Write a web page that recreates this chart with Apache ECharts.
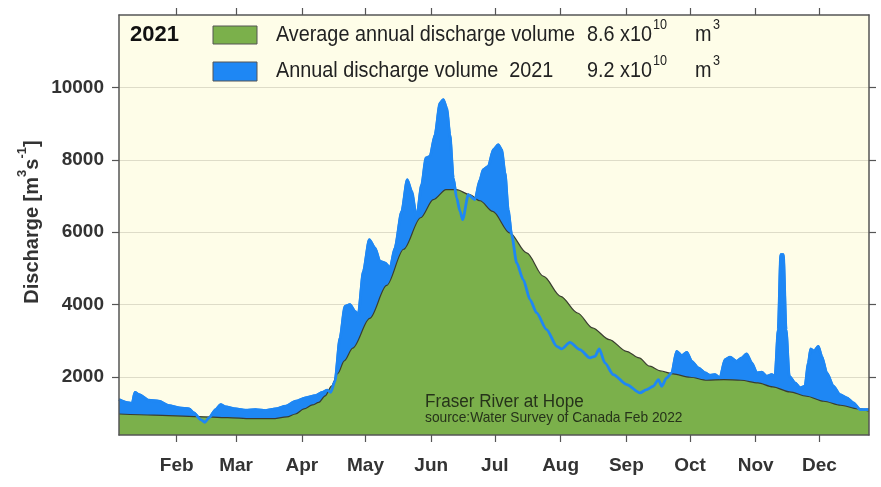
<!DOCTYPE html>
<html>
<head>
<meta charset="utf-8">
<script src="https://cdn.jsdelivr.net/npm/echarts@6/dist/echarts.min.js"></script>
<style>
html,body{margin:0;padding:0;background:#ffffff;}
#c{width:881px;height:487px;}
</style>
</head>
<body>
<div id="c"></div>
<script>
// ---- data (day of year, 0 = Jan 1) ----
var monthStarts = [31, 59, 90, 120, 151, 181, 212, 243, 273, 304, 334];
var monthNames = ['Feb','Mar','Apr','May','Jun','Jul','Aug','Sep','Oct','Nov','Dec'];
var yTicks = [2000, 4000, 6000, 8000, 10000];

var daysAvg = [3.8, 20, 41, 55, 66, 76, 83, 87, 91, 95, 98, 101, 104, 107, 110, 114, 122, 130, 138, 146, 152, 158, 163, 169, 174, 180, 188, 196, 204, 212, 220, 227, 235, 243, 249, 254, 259, 265, 273, 281, 289, 297, 305, 312, 320, 328, 336, 344, 352, 357.4];
var qAvg = [980, 950, 910, 880, 850, 850, 900, 980, 1120, 1230, 1300, 1480, 1750, 2100, 2450, 2800, 3620, 4530, 5530, 6400, 6900, 7175, 7175, 7040, 6870, 6576, 5980, 5430, 4780, 4230, 3770, 3360, 3035, 2712, 2530, 2300, 2170, 2088, 1995, 1912, 1930, 1912, 1840, 1730, 1592, 1470, 1332, 1222, 1122, 1056];

var days2021 = [3.8, 8.5, 10.0, 11.3, 13.2, 17.9, 22.6, 27.3, 32.1, 36.8, 39.1, 42.3, 44.3, 46.2, 49.4, 51.7, 54.1, 58.8, 63.5, 68.2, 72.9, 77.7, 82.4, 87.1, 91.8, 96.5, 99.6, 102.0, 103.6, 105.6, 108.0, 110.3, 112.7, 115.0, 116.6, 119.0, 121.8, 124.5, 126.8, 129.2, 131.6, 133.9, 137.1, 139.7, 141.8, 144.1, 146.5, 148.5, 150.4, 152.8, 155.1, 156.7, 158.3, 159.8, 161.4, 163.0, 164.6, 165.8, 168.5, 171.6, 174.0, 175.5, 177.9, 180.3, 182.6, 184.2, 185.8, 187.3, 188.9, 191.3, 194.4, 197.6, 200.7, 205.4, 210.2, 212.5, 216.4, 221.1, 225.8, 228.2, 230.2, 232.9, 236.8, 243.2, 249.4, 252.6, 255.7, 258.1, 259.7, 262.0, 264.4, 266.7, 269.1, 271.5, 273.8, 276.9, 280.1, 282.4, 284.8, 287.1, 289.5, 291.9, 295.0, 297.4, 299.7, 302.1, 304.5, 306.8, 309.2, 311.5, 313.1, 314.6, 315.8, 317.0, 318.3, 319.8, 322.5, 324.9, 327.2, 328.8, 329.9, 331.5, 333.5, 335.1, 337.5, 340.6, 343.7, 346.9, 350.0, 353.2, 355.5, 357.4];
var q2021 = [1379, 1288, 1270, 1580, 1517, 1360, 1332, 1213, 1150, 1122, 1012, 827, 752, 874, 1103, 1241, 1177, 1122, 1084, 1103, 1075, 1122, 1194, 1332, 1426, 1489, 1580, 1636, 1580, 1884, 3082, 3954, 4001, 3816, 3725, 4920, 5795, 5566, 5196, 5152, 5014, 5566, 6576, 7451, 7128, 6394, 7313, 8050, 8094, 8693, 9568, 9659, 9430, 8693, 7498, 6946, 6576, 6347, 7037, 6899, 7451, 7727, 7819, 8279, 8417, 8279, 7636, 6623, 5933, 5152, 4691, 4139, 3772, 3311, 2850, 2778, 2960, 2759, 2530, 2574, 2778, 2392, 2069, 1793, 1564, 1655, 1746, 1931, 1746, 1978, 2116, 2712, 2593, 2684, 2436, 2254, 2116, 2050, 2069, 1978, 2483, 2547, 2436, 2530, 2640, 2392, 2116, 2133, 2023, 2069, 2023, 3311, 5382, 5382, 3311, 2023, 1840, 1702, 1746, 2392, 2778, 2712, 2850, 2574, 2116, 1746, 1517, 1426, 1288, 1103, 1103, 1103];

var xMin = 3.8, xMax = 357.4, yMin = 400, yMax = 12000;

function pairs(xs, ys) { return xs.map(function (x, i) { return [x, ys[i]]; }); }

var BLUE = '#1e87f4', GREEN = '#7bb04b', AXIS = '#555555', TXT = '#333333';
var FONT = "'Liberation Sans', Arial, Helvetica, sans-serif";

function xAx(pos, labels) {
  return {
    type: 'value', position: pos, min: xMin, max: xMax, z: 10,
    axisLine: { show: true, onZero: false, lineStyle: { color: AXIS, width: 1.5 } },
    axisTick: { show: true, customValues: monthStarts, length: 7, inside: false, lineStyle: { color: AXIS, width: 1.2 } },
    axisLabel: labels ? {
      show: true, customValues: monthStarts, margin: 21,
      fontFamily: FONT, fontSize: 19, fontWeight: 'bold', color: TXT,
      formatter: function (v) { var i = monthStarts.indexOf(v); return i >= 0 ? monthNames[i] : ''; }
    } : { show: false },
    splitLine: { show: false }
  };
}
function yAx(pos, labels, split, z) {
  return {
    type: 'value', position: pos, min: yMin, max: yMax, z: z,
    axisLine: { show: !split, onZero: false, lineStyle: { color: AXIS, width: 1.5 } },
    axisTick: { show: !split, customValues: yTicks, length: 7, lineStyle: { color: AXIS, width: 1.2 } },
    axisLabel: labels ? {
      show: true, customValues: yTicks, margin: 15,
      fontFamily: FONT, fontSize: 19, fontWeight: 'bold', color: TXT,
      formatter: function (v) { return String(v); }
    } : { show: false },
    splitLine: { show: split, lineStyle: { color: '#dedcc8', width: 1 } }
  };
}

var chart = echarts.init(document.getElementById('c'), null, { renderer: 'canvas' });
var option = {
  animation: false,
  backgroundColor: '#ffffff',
  grid: { left: 119, right: 12, top: 15, bottom: 52, show: true, backgroundColor: '#fefde8', borderWidth: 0, z: 0 },
  xAxis: [xAx('bottom', true), xAx('top', false)],
  yAxis: [yAx('left', true, false, 10), yAx('right', false, false, 10), yAx('left', false, true, 1)],
  series: [
    { name: '2021 fill', type: 'line', xAxisIndex: 0, yAxisIndex: 0, data: pairs(days2021, q2021),
      smooth: 0.25, smoothMonotone: 'x', showSymbol: false, symbol: 'none', z: 2,
      lineStyle: { color: BLUE, width: 2.5 }, areaStyle: { color: BLUE, opacity: 1, origin: 'start' } },
    { name: 'Average', type: 'line', xAxisIndex: 0, yAxisIndex: 0, data: pairs(daysAvg, qAvg),
      smooth: 0.3, smoothMonotone: 'x', showSymbol: false, symbol: 'none', z: 3,
      lineStyle: { color: '#3a3d30', width: 1.2 }, areaStyle: { color: GREEN, opacity: 1, origin: 'start' } },
    { name: '2021', type: 'line', xAxisIndex: 0, yAxisIndex: 0, data: pairs(days2021, q2021),
      smooth: 0.25, smoothMonotone: 'x', showSymbol: false, symbol: 'none', z: 4,
      lineStyle: { color: BLUE, width: 2.8 } }
  ],
  graphic: [
    // y-axis title
    { type: 'text', x: 29, y: 222, rotation: Math.PI / 2, z: 20,
      style: { text: '{a|Discharge [m}{s|3}{a|s}{s|-1}{a|]}', align: 'center', verticalAlign: 'middle',
        rich: { a: { fontFamily: FONT, fontSize: 20, fontWeight: 'bold', fill: TXT, lineHeight: 26, verticalAlign: 'bottom' },
                s: { fontFamily: FONT, fontSize: 13, fontWeight: 'bold', fill: TXT, lineHeight: 13, verticalAlign: 'top' } } } },
    // legend
    { type: 'text', x: 130, y: 35, z: 20, style: { text: '2021', fontFamily: FONT, fontSize: 22, fontWeight: 'bold', fill: '#111', verticalAlign: 'middle' } },
    { type: 'rect', shape: { x: 213, y: 26, width: 44, height: 18 }, z: 20, style: { fill: GREEN, stroke: '#555', lineWidth: 1 } },
    { type: 'rect', shape: { x: 213, y: 62, width: 44, height: 19 }, z: 20, style: { fill: BLUE, stroke: '#555', lineWidth: 1 } },
    { type: 'text', x: 276, y: 35, scaleX: 0.9, z: 20, style: { text: 'Average annual discharge volume', fontFamily: FONT, fontSize: 22, fill: '#222', verticalAlign: 'middle' } },
    { type: 'text', x: 652, y: 35, scaleX: 0.9, z: 20, style: { text: '8.6 x10', fontFamily: FONT, fontSize: 22, fill: '#222', verticalAlign: 'middle', align: 'right' } },
    { type: 'text', x: 653, y: 25, scaleX: 0.9, z: 20, style: { text: '10', fontFamily: FONT, fontSize: 14, fill: '#222', verticalAlign: 'middle' } },
    { type: 'text', x: 695, y: 35, scaleX: 0.9, z: 20, style: { text: 'm', fontFamily: FONT, fontSize: 22, fill: '#222', verticalAlign: 'middle' } },
    { type: 'text', x: 713, y: 25, scaleX: 0.9, z: 20, style: { text: '3', fontFamily: FONT, fontSize: 14, fill: '#222', verticalAlign: 'middle' } },
    { type: 'text', x: 276, y: 71, scaleX: 0.9, z: 20, style: { text: 'Annual discharge volume  2021', fontFamily: FONT, fontSize: 22, fill: '#222', verticalAlign: 'middle' } },
    { type: 'text', x: 652, y: 71, scaleX: 0.9, z: 20, style: { text: '9.2 x10', fontFamily: FONT, fontSize: 22, fill: '#222', verticalAlign: 'middle', align: 'right' } },
    { type: 'text', x: 653, y: 61, scaleX: 0.9, z: 20, style: { text: '10', fontFamily: FONT, fontSize: 14, fill: '#222', verticalAlign: 'middle' } },
    { type: 'text', x: 695, y: 71, scaleX: 0.9, z: 20, style: { text: 'm', fontFamily: FONT, fontSize: 22, fill: '#222', verticalAlign: 'middle' } },
    { type: 'text', x: 713, y: 61, scaleX: 0.9, z: 20, style: { text: '3', fontFamily: FONT, fontSize: 14, fill: '#222', verticalAlign: 'middle' } },
    // annotation
    { type: 'text', x: 425, y: 402, scaleX: 0.95, z: 20, style: { text: 'Fraser River at Hope', fontFamily: FONT, fontSize: 18, fill: '#26331a', verticalAlign: 'middle' } },
    { type: 'text', x: 425, y: 418, scaleX: 0.95, z: 20, style: { text: 'source:Water Survey of Canada Feb 2022', fontFamily: FONT, fontSize: 14.5, fill: '#26331a', verticalAlign: 'middle' } }
  ]
};
chart.setOption(option);
</script>
</body>
</html>
